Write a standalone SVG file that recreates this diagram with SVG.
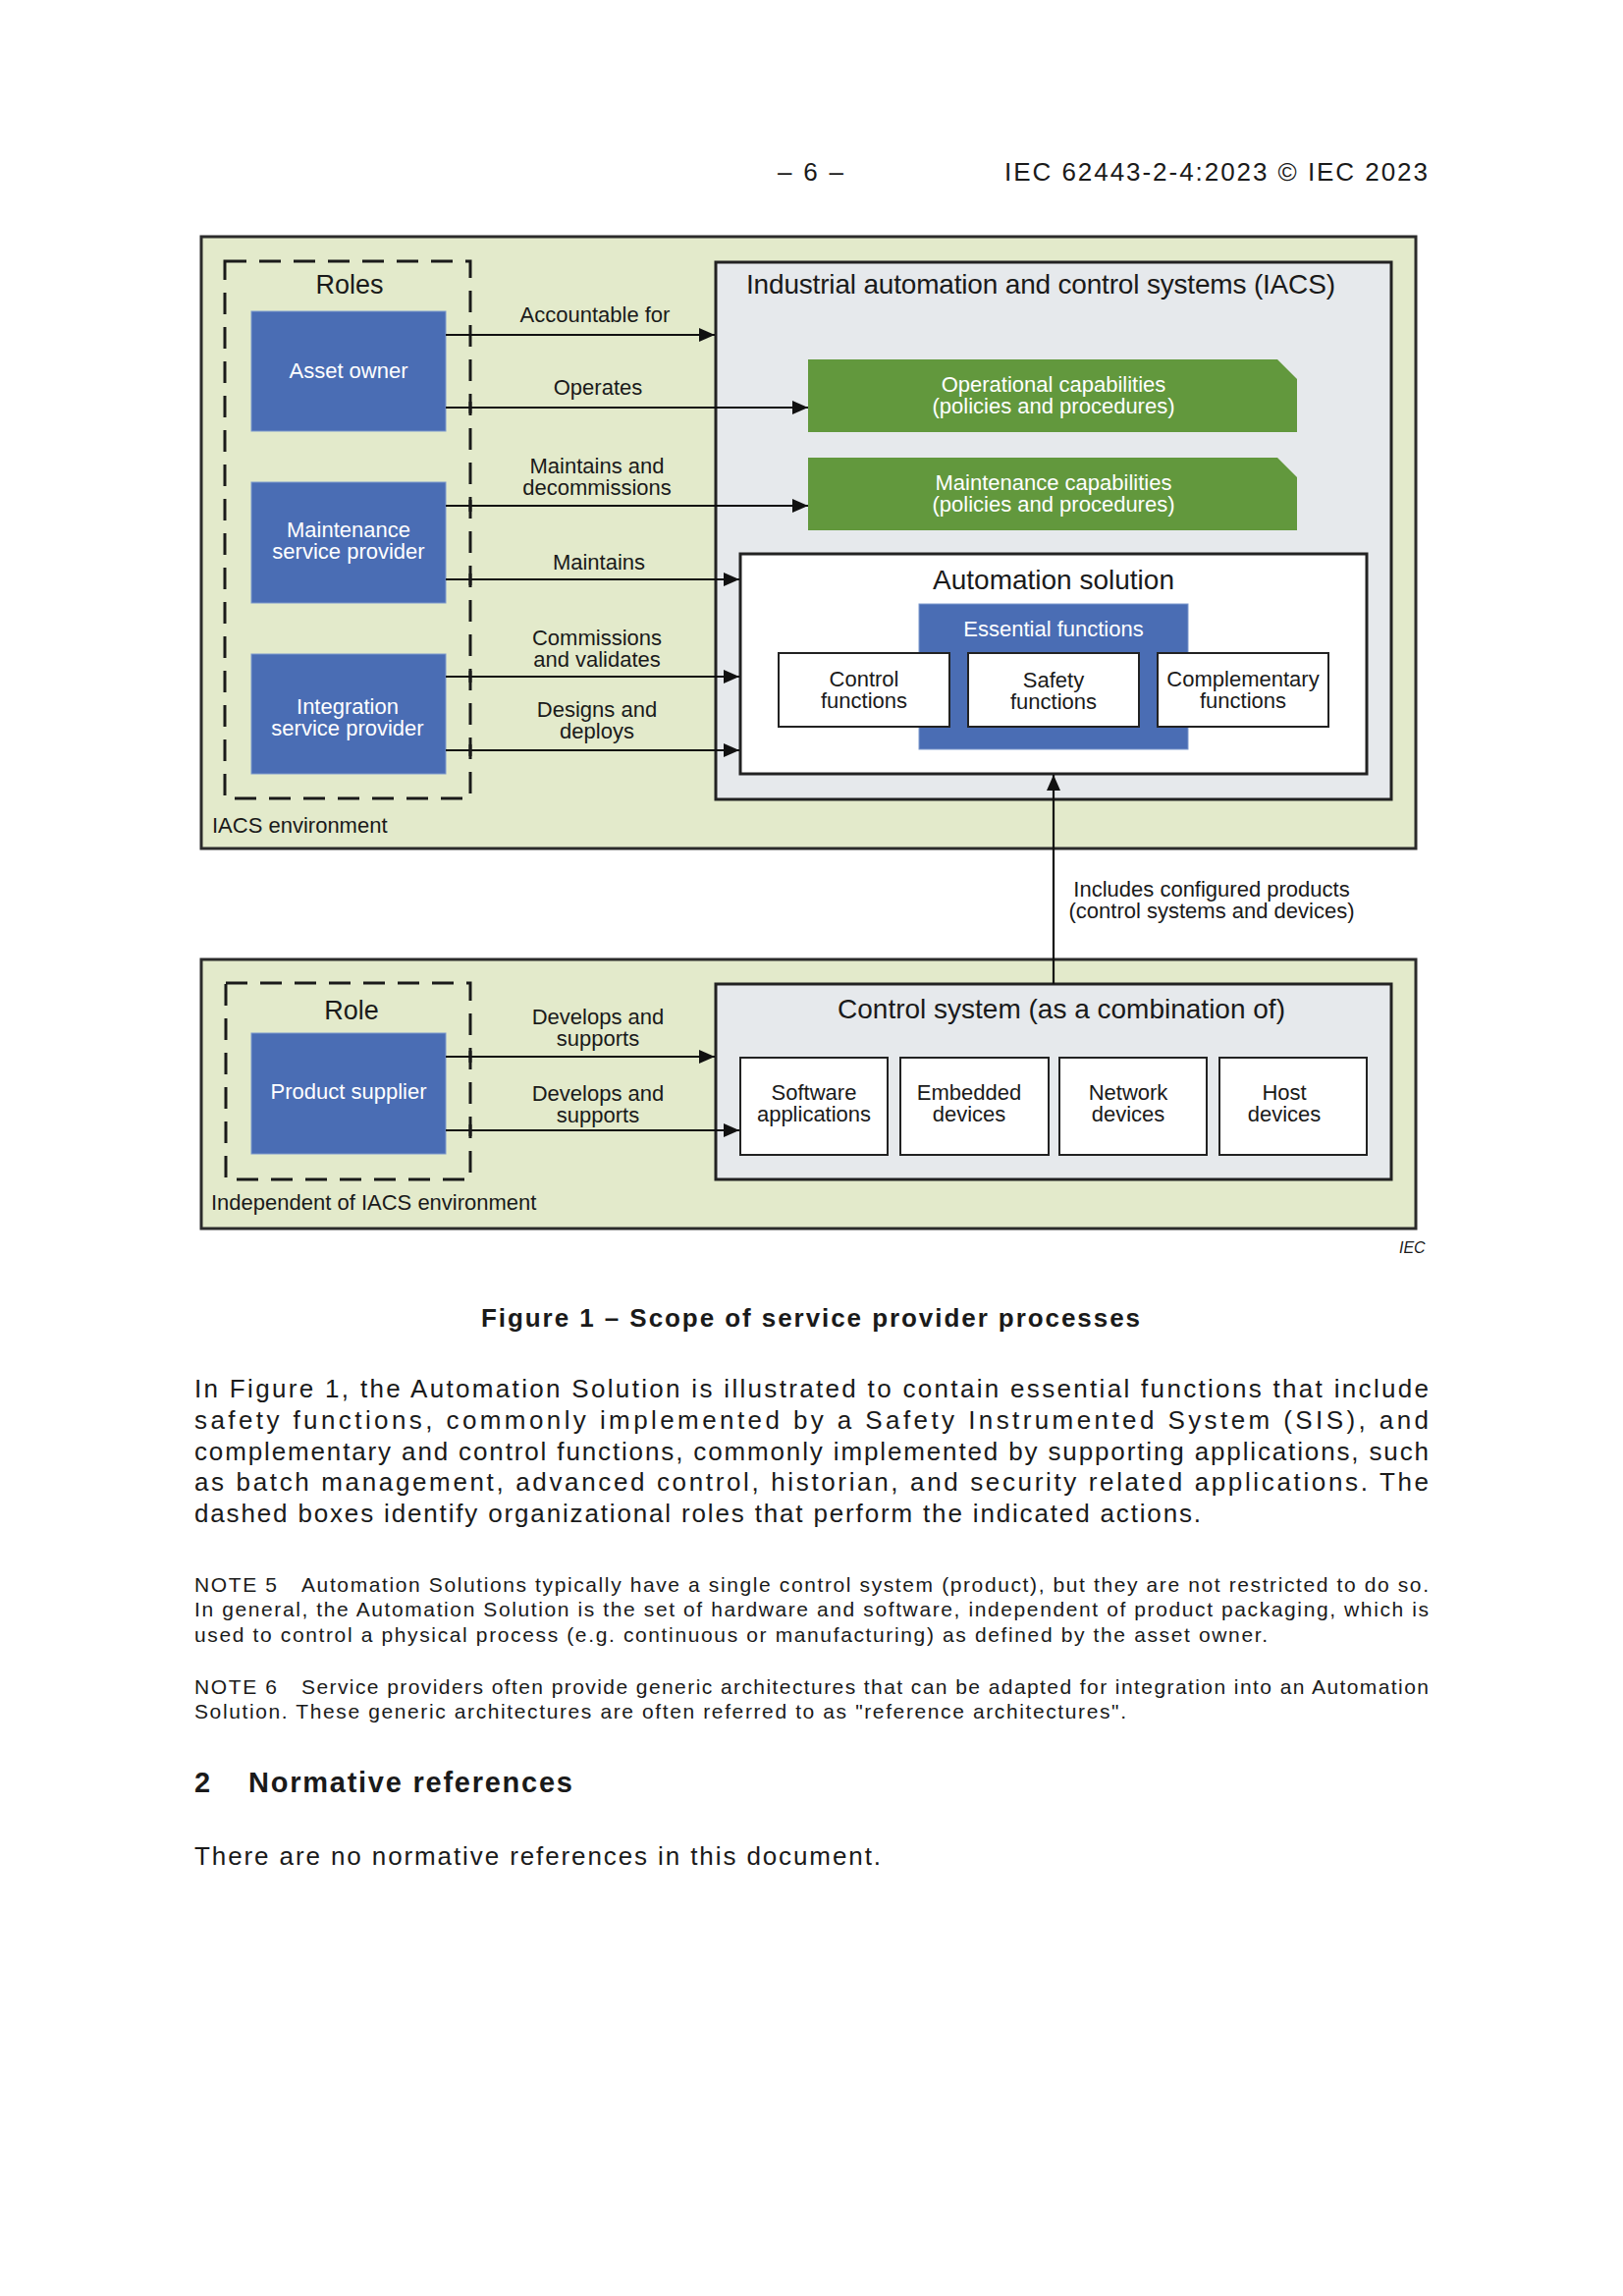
<svg xmlns="http://www.w3.org/2000/svg" width="1653" height="2338" viewBox="0 0 1653 2338">
<style>
text{font-family:"Liberation Sans",Arial,Helvetica,sans-serif;fill:#1a1a1a}
.l{font-size:22px}
.c{text-anchor:middle}
.w{fill:#ffffff}
.h{font-size:28px}
.env{fill:#e3eacb;stroke:#2b2b2b;stroke-width:3}
.sys{fill:#e6e9ec;stroke:#222222;stroke-width:3}
.wb{fill:#ffffff;stroke:#222222;stroke-width:3}
.sb{fill:#ffffff;stroke:#222222;stroke-width:2}
.blue{fill:#4a6db4;stroke:#7d99cd;stroke-width:1}
.green{fill:#62983d}
.dash{fill:none;stroke:#1a1a1a;stroke-width:3;stroke-dasharray:22 13}
.arr{stroke:#111111;stroke-width:2.2;fill:none;marker-end:url(#ah)}
.tick{stroke:#1a1a1a;stroke-width:3}
.pg{font-size:26px}
.note{font-size:21px}
.b{font-weight:bold}
</style>
<defs>
<marker id="ah" markerUnits="userSpaceOnUse" markerWidth="16" markerHeight="14" refX="16" refY="7" orient="auto"><path d="M0,0 L16,7 L0,14 Z" fill="#111111"/></marker>
</defs>
<rect width="1653" height="2338" fill="#ffffff"/>

<g id="header">
<text class="pg" x="792" y="184" textLength="67" lengthAdjust="spacing">– 6 –</text>
<text class="pg" x="1023" y="184" textLength="431" lengthAdjust="spacing">IEC 62443-2-4:2023 © IEC 2023</text>
</g>

<g id="iacs-environment">
<rect class="env" x="205" y="241" width="1237" height="623"/>
<text class="l" x="216" y="848">IACS environment</text>
</g>
<g id="independent-environment">
<rect class="env" x="205" y="977" width="1237" height="274"/>
<text class="l" x="215" y="1232">Independent of IACS environment</text>
</g>

<g id="roles">
<rect class="dash" x="229" y="266" width="250" height="547"/>
<text class="c" x="356" y="299" font-size="27">Roles</text>
</g>
<g id="asset-owner">
<rect class="blue" x="256" y="317" width="198" height="122"/>
<text class="l c w" x="355" y="385">Asset owner</text>
</g>
<g id="maintenance-service-provider">
<rect class="blue" x="256" y="491" width="198" height="123"/>
<text class="l c w" x="355" y="547">Maintenance</text>
<text class="l c w" x="355" y="569">service provider</text>
</g>
<g id="integration-service-provider">
<rect class="blue" x="256" y="666" width="198" height="122"/>
<text class="l c w" x="354" y="727">Integration</text>
<text class="l c w" x="354" y="749">service provider</text>
</g>

<g id="iacs">
<rect class="sys" x="729" y="267" width="688" height="547"/>
<text class="h" x="760" y="299" textLength="600" lengthAdjust="spacing">Industrial automation and control systems (IACS)</text>
</g>
<g id="operational-capabilities">
<path class="green" d="M823,366 H1301 L1321,386 V440 H823 Z"/>
<text class="l c w" x="1073" y="399">Operational capabilities</text>
<text class="l c w" x="1073" y="421">(policies and procedures)</text>
</g>
<g id="maintenance-capabilities">
<path class="green" d="M823,466 H1301 L1321,486 V540 H823 Z"/>
<text class="l c w" x="1073" y="499">Maintenance capabilities</text>
<text class="l c w" x="1073" y="521">(policies and procedures)</text>
</g>
<g id="automation-solution">
<rect class="wb" x="754" y="564" width="638" height="224"/>
<text class="h c" x="1073" y="600">Automation solution</text>
</g>
<g id="essential-functions">
<rect class="blue" x="936" y="615" width="274" height="148"/>
<text class="l c w" x="1073" y="648">Essential functions</text>
</g>
<g id="control-functions">
<rect class="sb" x="793" y="665" width="174" height="75"/>
<text class="l c" x="880" y="699">Control</text>
<text class="l c" x="880" y="721">functions</text>
</g>
<g id="safety-functions">
<rect class="sb" x="986" y="665" width="174" height="75"/>
<text class="l c" x="1073" y="700">Safety</text>
<text class="l c" x="1073" y="722">functions</text>
</g>
<g id="complementary-functions">
<rect class="sb" x="1179" y="665" width="174" height="75"/>
<text class="l c" x="1266" y="699">Complementary</text>
<text class="l c" x="1266" y="721">functions</text>
</g>

<g id="role">
<rect class="dash" x="230" y="1001" width="249" height="200"/>
<text class="c" x="358" y="1038" font-size="27">Role</text>
</g>
<g id="product-supplier">
<rect class="blue" x="256" y="1052" width="198" height="123"/>
<text class="l c w" x="355" y="1119">Product supplier</text>
</g>

<g id="control-system">
<rect class="sys" x="729" y="1002" width="688" height="199"/>
<text class="h c" x="1081" y="1037">Control system (as a combination of)</text>
</g>
<g id="software-applications">
<rect class="sb" x="754" y="1077" width="150" height="99"/>
<text class="l c" x="829" y="1120">Software</text>
<text class="l c" x="829" y="1142">applications</text>
</g>
<g id="embedded-devices">
<rect class="sb" x="917" y="1077" width="151" height="99"/>
<text class="l c" x="987" y="1120">Embedded</text>
<text class="l c" x="987" y="1142">devices</text>
</g>
<g id="network-devices">
<rect class="sb" x="1079" y="1077" width="150" height="99"/>
<text class="l c" x="1149" y="1120">Network</text>
<text class="l c" x="1149" y="1142">devices</text>
</g>
<g id="host-devices">
<rect class="sb" x="1242" y="1077" width="150" height="99"/>
<text class="l c" x="1308" y="1120">Host</text>
<text class="l c" x="1308" y="1142">devices</text>
</g>

<g id="connectors">
<line class="arr" x1="454" y1="341" x2="728" y2="341"/>
<line class="arr" x1="454" y1="415" x2="823" y2="415"/>
<line class="arr" x1="454" y1="515" x2="823" y2="515"/>
<line class="arr" x1="454" y1="590" x2="753" y2="590"/>
<line class="arr" x1="454" y1="689" x2="753" y2="689"/>
<line class="arr" x1="454" y1="764" x2="753" y2="764"/>
<line class="arr" x1="454" y1="1076" x2="728" y2="1076"/>
<line class="arr" x1="454" y1="1151" x2="753" y2="1151"/>
<line class="arr" x1="1073" y1="1002" x2="1073" y2="789"/>
<line class="tick" x1="479" y1="409" x2="479" y2="421"/>
<line class="tick" x1="479" y1="509" x2="479" y2="521"/>
<line class="tick" x1="479" y1="584" x2="479" y2="596"/>
<line class="tick" x1="479" y1="683" x2="479" y2="695"/>
<line class="tick" x1="479" y1="758" x2="479" y2="770"/>
<line class="tick" x1="479" y1="1070" x2="479" y2="1082"/>
<line class="tick" x1="479" y1="1145" x2="479" y2="1157"/>
<text class="l c" x="606" y="328">Accountable for</text>
<text class="l c" x="609" y="402">Operates</text>
<text class="l c" x="608" y="482">Maintains and</text>
<text class="l c" x="608" y="504">decommissions</text>
<text class="l c" x="610" y="580">Maintains</text>
<text class="l c" x="608" y="657">Commissions</text>
<text class="l c" x="608" y="679">and validates</text>
<text class="l c" x="608" y="730">Designs and</text>
<text class="l c" x="608" y="752">deploys</text>
<text class="l c" x="609" y="1043">Develops and</text>
<text class="l c" x="609" y="1065">supports</text>
<text class="l c" x="609" y="1121">Develops and</text>
<text class="l c" x="609" y="1143">supports</text>
<text class="l c" x="1234" y="913">Includes configured products</text>
<text class="l c" x="1234" y="935">(control systems and devices)</text>
</g>

<g id="iec-mark">
<text x="1425" y="1276" font-size="16" font-style="italic">IEC</text>
</g>

<g id="page-text">
<text class="pg b" x="490" y="1351" textLength="671" lengthAdjust="spacing">Figure 1 – Scope of service provider processes</text>
<text class="pg" x="198" y="1423" textLength="1257" lengthAdjust="spacing">In Figure 1, the Automation Solution is illustrated to contain essential functions that include</text>
<text class="pg" x="198" y="1455" textLength="1257" lengthAdjust="spacing">safety functions, commonly implemented by a Safety Instrumented System (SIS), and</text>
<text class="pg" x="198" y="1487" textLength="1257" lengthAdjust="spacing">complementary and control functions, commonly implemented by supporting applications, such</text>
<text class="pg" x="198" y="1518" textLength="1257" lengthAdjust="spacing">as batch management, advanced control, historian, and security related applications. The</text>
<text class="pg" x="198" y="1550" textLength="1025" lengthAdjust="spacing">dashed boxes identify organizational roles that perform the indicated actions.</text>
<text class="note" x="198" y="1621" textLength="84" lengthAdjust="spacing">NOTE 5</text>
<text class="note" x="307" y="1621" textLength="1148" lengthAdjust="spacing">Automation Solutions typically have a single control system (product), but they are not restricted to do so.</text>
<text class="note" x="198" y="1646" textLength="1257" lengthAdjust="spacing">In general, the Automation Solution is the set of hardware and software, independent of product packaging, which is</text>
<text class="note" x="198" y="1672" textLength="1093" lengthAdjust="spacing">used to control a physical process (e.g. continuous or manufacturing) as defined by the asset owner.</text>
<text class="note" x="198" y="1725" textLength="84" lengthAdjust="spacing">NOTE 6</text>
<text class="note" x="307" y="1725" textLength="1148" lengthAdjust="spacing">Service providers often provide generic architectures that can be adapted for integration into an Automation</text>
<text class="note" x="198" y="1750" textLength="949" lengthAdjust="spacing">Solution. These generic architectures are often referred to as "reference architectures".</text>
<text class="b" x="198" y="1825" font-size="29">2</text>
<text class="b" x="253" y="1825" font-size="29" textLength="330" lengthAdjust="spacing">Normative references</text>
<text class="pg" x="198" y="1899" textLength="699" lengthAdjust="spacing">There are no normative references in this document.</text>
</g>
</svg>
